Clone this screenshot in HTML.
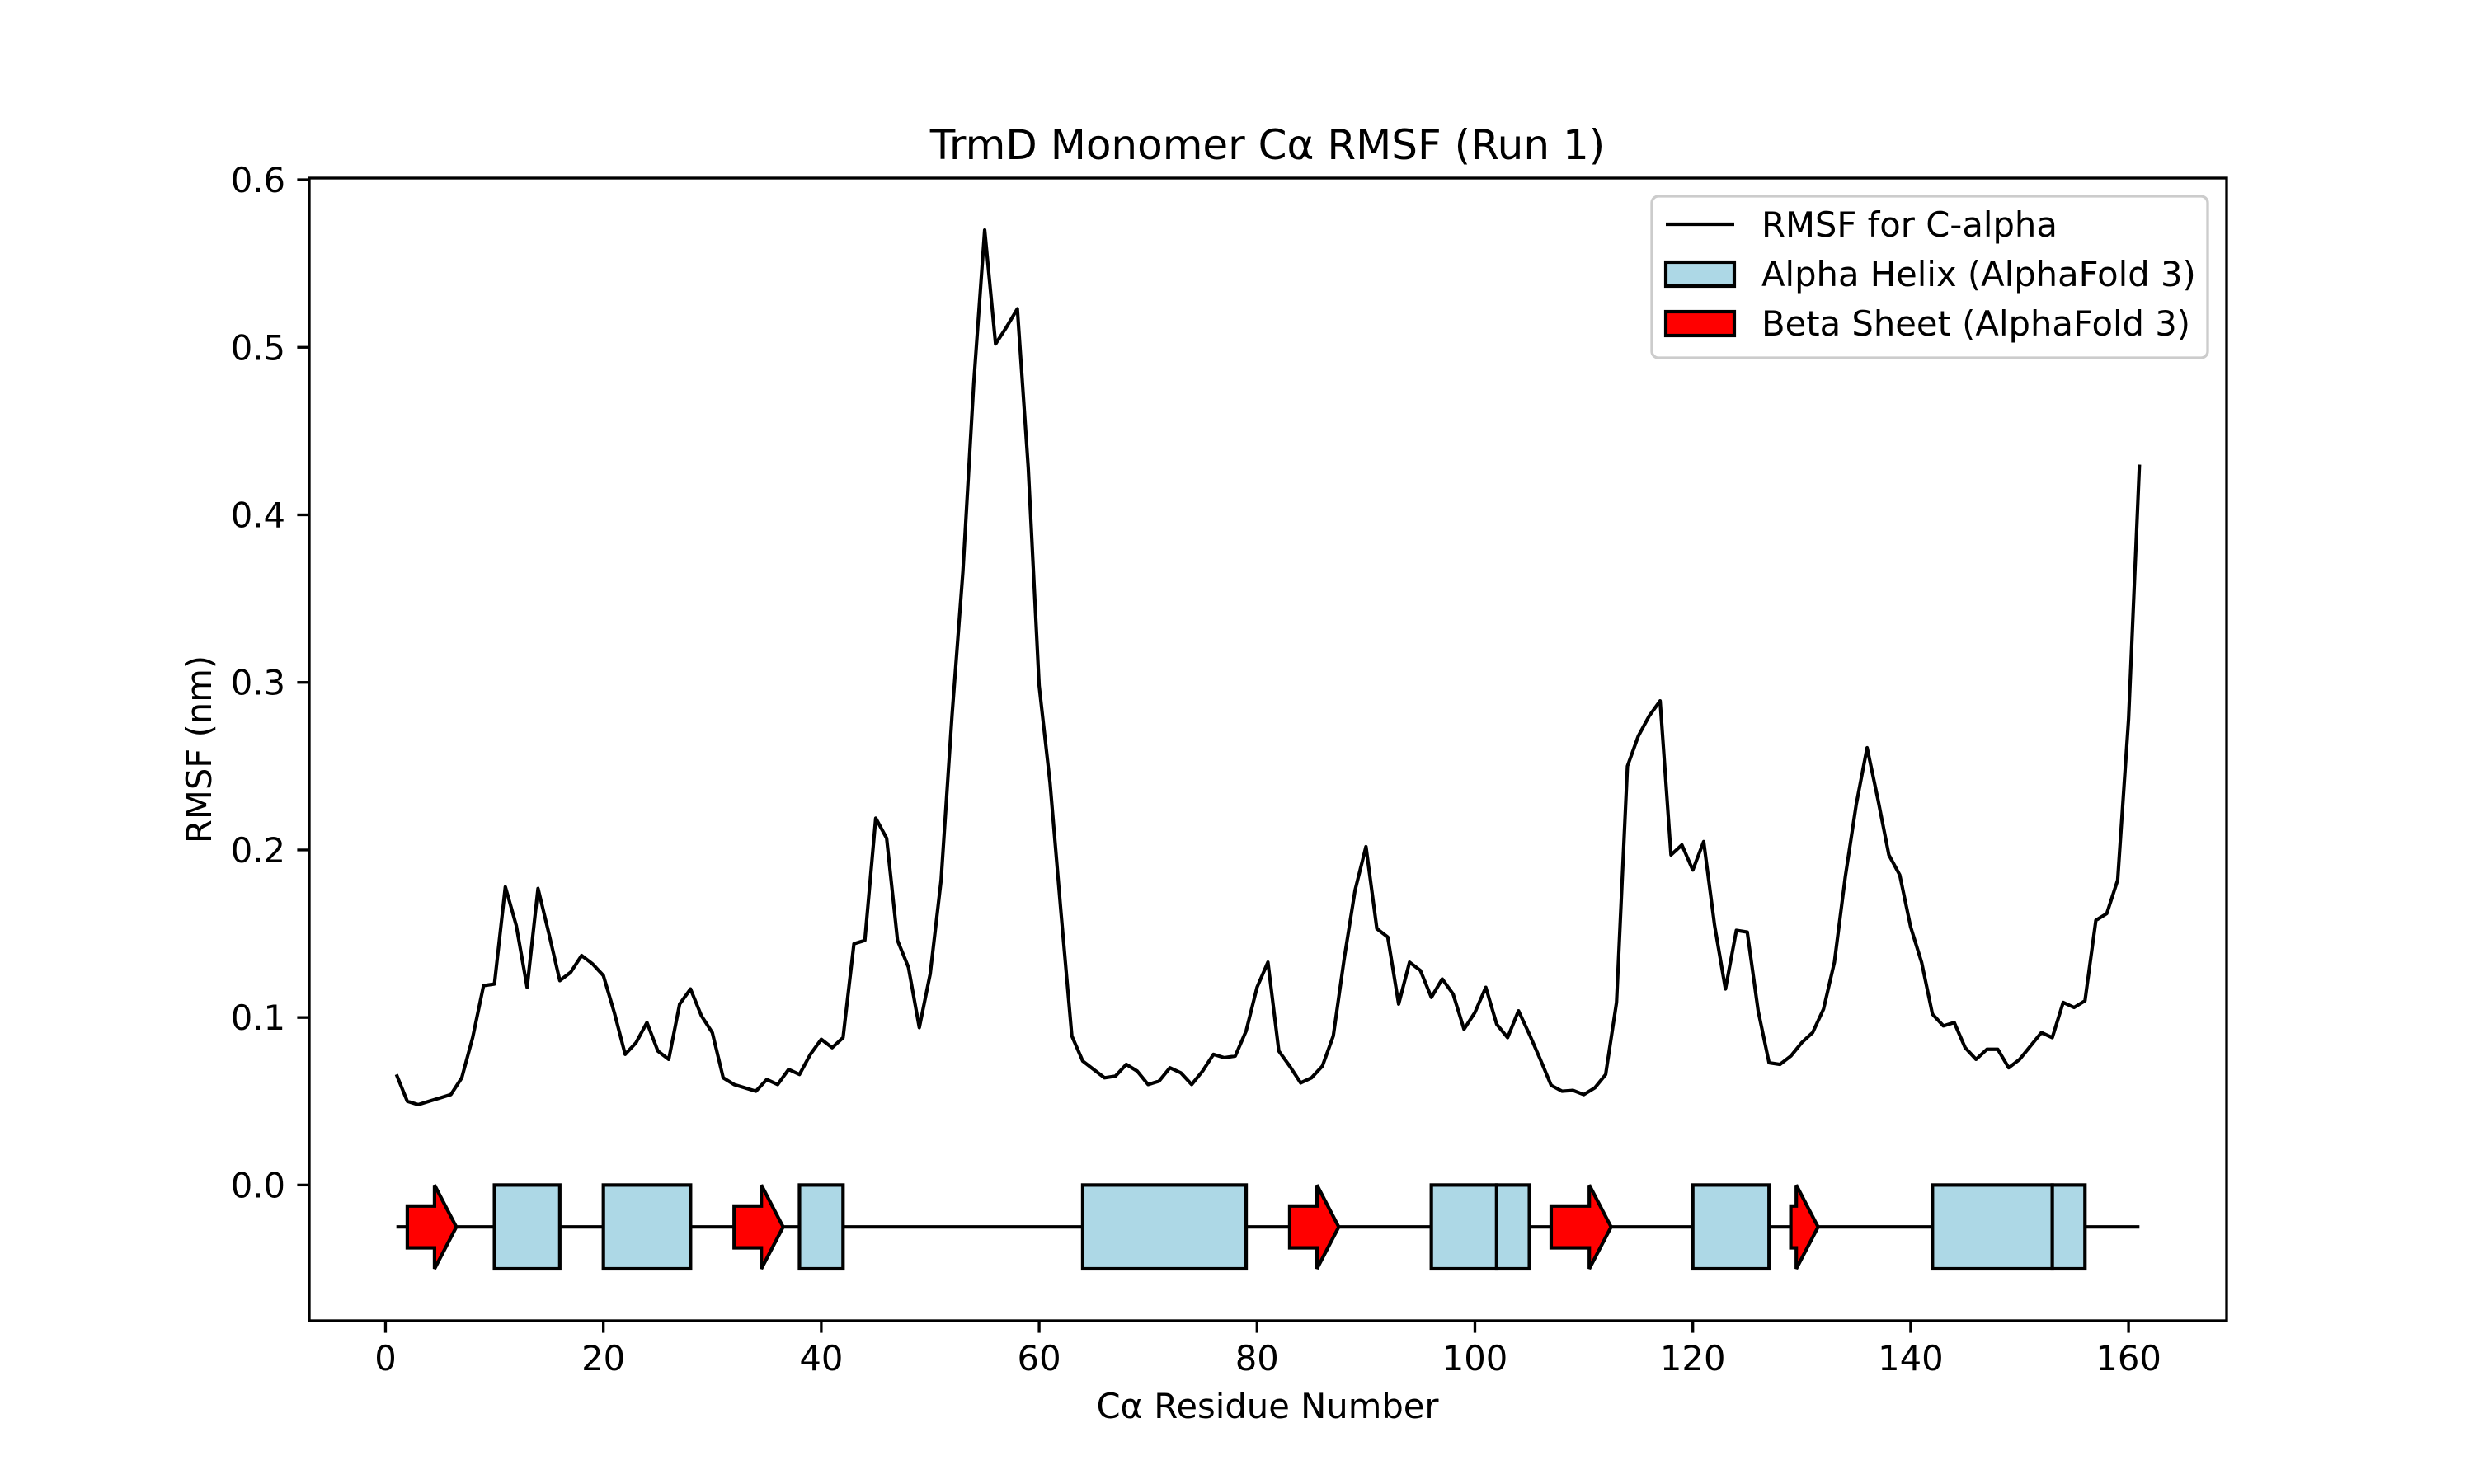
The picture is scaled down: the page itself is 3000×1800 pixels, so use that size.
<!DOCTYPE html>
<html>
<head>
<meta charset="utf-8">
<style>
  html, body { margin: 0; padding: 0; background: #fff; }
  svg { display: block; }
  text { font-family: "DejaVu Sans", "Liberation Sans", sans-serif; fill: #000; }
</style>
</head>
<body>
<svg id="chart" width="3000" height="1800" viewBox="0 0 3000 1800" xmlns="http://www.w3.org/2000/svg">
  <rect x="0" y="0" width="3000" height="1800" fill="#fff"/>
  <text x="1537" y="193" font-size="50" text-anchor="middle">TrmD Monomer Cα RMSF (Run 1)</text>
  <text x="1537" y="1720" font-size="41.7" text-anchor="middle">Cα Residue Number</text>
  <text x="256" y="909" font-size="41.7" text-anchor="middle" transform="rotate(-90 256 909)">RMSF (nm)</text>
  <g id="plot"></g>
  <g id="xticks"></g>
  <g id="yticks"></g>
  <rect x="375" y="216" width="2325" height="1386" fill="none" stroke="#000" stroke-width="3.33"/>
  <g id="legend">
    <rect x="2003" y="238" width="674" height="196" rx="8" fill="#fff" fill-opacity="0.8" stroke="#ccc" stroke-width="3.33"/>
    <line x1="2020" y1="272" x2="2103" y2="272" stroke="#000" stroke-width="4.17"/>
    <text x="2136" y="287" font-size="41.7">RMSF for C-alpha</text>
    <rect x="2020" y="318" width="83" height="29" fill="#add8e6" stroke="#000" stroke-width="4.17"/>
    <text x="2136" y="347" font-size="41.7">Alpha Helix (AlphaFold 3)</text>
    <rect x="2020" y="378" width="83" height="29" fill="#ff0000" stroke="#000" stroke-width="4.17"/>
    <text x="2136" y="407" font-size="41.7">Beta Sheet (AlphaFold 3)</text>
  </g>
</svg>
<script>
const rmsfValues = [
0.066,0.050,0.048,0.050,0.052,0.054,0.064,0.088,0.119,0.120,
0.178,0.155,0.118,0.177,0.150,0.122,0.127,0.137,0.132,0.125,
0.103,0.078,0.085,0.097,0.080,0.075,0.108,0.117,0.101,0.091,
0.064,0.060,0.058,0.056,0.063,0.060,0.069,0.066,0.078,0.087,
0.082,0.088,0.144,0.146,0.219,0.207,0.146,0.130,0.094,0.126,
0.182,0.280,0.366,0.479,0.570,0.502,0.512,0.523,0.428,0.298,
0.240,0.163,0.089,0.074,0.069,0.064,0.065,0.072,0.068,0.060,
0.062,0.070,0.067,0.060,0.068,0.078,0.076,0.077,0.092,0.118,
0.133,0.080,0.071,0.061,0.064,0.071,0.089,0.135,0.176,0.202,
0.153,0.148,0.108,0.133,0.128,0.112,0.123,0.114,0.093,0.103,
0.118,0.096,0.088,0.104,0.090,0.075,0.0595,0.056,0.0565,0.054,
0.058,0.066,0.109,0.250,0.268,0.280,0.289,0.197,0.203,0.188,
0.205,0.155,0.117,0.152,0.151,0.104,0.073,0.072,0.077,0.085,
0.091,0.105,0.133,0.184,0.227,0.261,0.230,0.197,0.185,0.154,
0.133,0.102,0.095,0.097,0.082,0.075,0.081,0.081,0.070,0.075,
0.083,0.091,0.088,0.109,0.106,0.110,0.158,0.162,0.182,0.278,0.430];
const helixStarts = [10,20,38,64,96,102,120,142,153];
const helixEnds   = [16,28,42,79,102,105,127,153,156];
const sheetStarts = [2,32,83,107,129];
const sheetEnds   = [6.5,36.5,87.5,112.5,131.5];
const xTickLabels = [0,20,40,60,80,100,120,140,160];
const yTickLabels = [0.0,0.1,0.2,0.3,0.4,0.5,0.6];
const baselineValue = -0.025;
const boxHalf = 0.025;
const bodyHalf = 0.0125;
const headLen = 2;

const NS = "http://www.w3.org/2000/svg";
const L = 375, R = 2700, T = 216, B = 1602;
const XMIN = -7, XMAX = 169, YMIN = -0.081, YMAX = 0.601;
function xs(v) { return L + (v - XMIN) / (XMAX - XMIN) * (R - L); }
function ys(v) { return B - (v - YMIN) / (YMAX - YMIN) * (B - T); }
function mk(tag, attrs, parent) {
  const el = document.createElementNS(NS, tag);
  for (const k in attrs) el.setAttribute(k, attrs[k]);
  parent.appendChild(el);
  return el;
}
const plot = document.getElementById('plot');

const bl = mk('line', {x1: xs(1), y1: ys(baselineValue), x2: xs(rmsfValues.length), y2: ys(baselineValue), stroke: '#000', 'stroke-width': 4.17}, plot);



for (let i = 0; i < helixStarts.length; i++) {
  const r = mk('rect', {x: xs(helixStarts[i]), y: ys(baselineValue + boxHalf), width: xs(helixEnds[i]) - xs(helixStarts[i]), height: ys(baselineValue - boxHalf) - ys(baselineValue + boxHalf), fill: '#add8e6', stroke: '#000', 'stroke-width': 4.17}, plot);
  
  
}
for (let i = 0; i < sheetStarts.length; i++) {
  const s = sheetStarts[i], e = sheetEnds[i];
  const hb = Math.max(s + 0.5, e - headLen);
  const pts = [
    [xs(s), ys(baselineValue + bodyHalf)], [xs(hb), ys(baselineValue + bodyHalf)],
    [xs(hb), ys(baselineValue + boxHalf)], [xs(e), ys(baselineValue)],
    [xs(hb), ys(baselineValue - boxHalf)], [xs(hb), ys(baselineValue - bodyHalf)],
    [xs(s), ys(baselineValue - bodyHalf)]
  ].map(p => p.join(',')).join(' ');
  const a = mk('polygon', {points: pts, fill: '#ff0000', stroke: '#000', 'stroke-width': 4.17, 'stroke-linejoin': 'miter'}, plot);
  
  
}
const d = rmsfValues.map((v, i) => (i ? 'L' : 'M') + xs(i + 1).toFixed(2) + ',' + ys(v).toFixed(2)).join(' ');
const ln = mk('path', {d: d, fill: 'none', stroke: '#000', 'stroke-width': 4.17, 'stroke-linejoin': 'round'}, plot);



const xg = document.getElementById('xticks');
xTickLabels.forEach(v => {
  const t = mk('line', {x1: xs(v), y1: B, x2: xs(v), y2: B + 14.6, stroke: '#000', 'stroke-width': 3.33}, xg);
  
  
  const tx = mk('text', {x: xs(v), y: B + 60, 'font-size': 41.7, 'text-anchor': 'middle'}, xg);
  tx.textContent = String(v);
  
  
});
const yg = document.getElementById('yticks');
yTickLabels.forEach(v => {
  const t = mk('line', {x1: L - 14.6, y1: ys(v), x2: L, y2: ys(v), stroke: '#000', 'stroke-width': 3.33}, yg);
  
  
  const tx = mk('text', {x: L - 29, y: ys(v) + 15, 'font-size': 41.7, 'text-anchor': 'end'}, yg);
  tx.textContent = v.toFixed(1);
  
  
});
</script>
</body>
</html>
